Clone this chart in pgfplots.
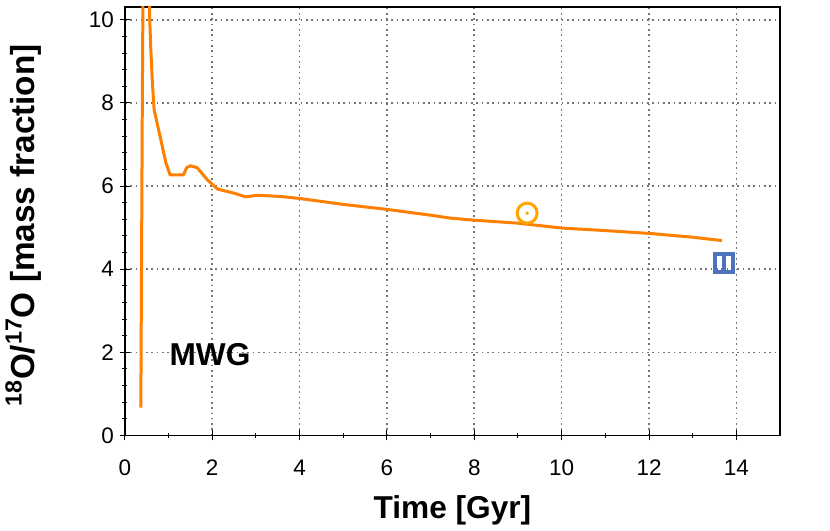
\documentclass[border=0pt]{standalone}
\usepackage{fontspec}
\setmainfont{Liberation Sans}
\usepackage{pgfplots}
\pgfplotsset{compat=1.18}
\definecolor{lineorange}{RGB}{255,128,0}
\definecolor{sunorange}{RGB}{255,165,0}
\definecolor{obsblue}{RGB}{79,114,190}
\begin{document}
\begin{tikzpicture}
\begin{axis}[name=ax, scale only axis, width=393.6pt, height=257.4pt,
  xmin=0, xmax=15, ymin=0, ymax=10.31,
  xtick={0,2,...,14}, ytick={0,2,...,10},
  minor x tick num=1, minor y tick num=4,
  grid=major,
  major grid style={black!55, line width=1pt, dash pattern=on 1pt off 2.2pt},
  tick align=center, xtick pos=bottom, ytick pos=left,
  major tick length=6pt, minor tick length=3pt,
  tick style={black, line width=0.6pt},
  axis line style={black, line width=0.9pt},
  ticklabel style={font=\fontsize{13.5}{16}\selectfont},
  /pgf/number format/assume math mode=true,
  xticklabel style={yshift=-8pt},
  xlabel={Time [Gyr]},
  ylabel={\textsuperscript{18}O/\textsuperscript{17}O [mass fraction]},
  label style={font=\fontsize{19}{22}\selectfont\bfseries},
  xlabel style={at={(axis description cs:0.5,0)}, anchor=center, yshift=-45pt},
  ylabel style={at={(axis description cs:-0.155,0.49)}, anchor=center, font=\fontsize{20}{23}\selectfont\bfseries},
  clip=true,
]
\addplot[lineorange, line width=1.8pt, line join=round] coordinates {
 (0.366,0.67) (0.40,8.0) (0.42,11.5) (0.48,13.0) (0.55,11.2) (0.57,10.0)
 (0.595,9.28) (0.63,8.5) (0.67,7.84) (0.823,7.12) (0.94,6.56) (1.036,6.27)
 (1.34,6.27) (1.42,6.45) (1.51,6.49) (1.66,6.44) (1.89,6.15) (2.12,5.93)
 (2.35,5.87) (2.50,5.83) (2.77,5.74) (3.03,5.78) (3.57,5.75) (4.02,5.70)
 (5.0,5.56) (6.0,5.44) (7.0,5.30) (7.45,5.23) (8.0,5.18) (8.98,5.11)
 (10.01,4.99) (11.0,4.93) (12.03,4.86) (13.0,4.77) (13.67,4.69)
};
\addplot[only marks, mark=o, mark size=6pt, sunorange, mark options={line width=1.8pt}] coordinates {(9.21,5.35)};
\addplot[only marks, mark=*, mark size=0.8pt, sunorange] coordinates {(9.21,5.35)};
\addplot[only marks, mark=square, mark size=5.4pt, obsblue, mark options={line width=2.2pt}] coordinates {(13.71,4.15)};
\addplot[only marks, mark=|, mark size=5.4pt, obsblue, mark options={line width=2.2pt}] coordinates {(13.71,4.15)};
\node[font=\fontsize{19}{22}\selectfont\bfseries] at (axis cs:1.95,1.95) {MWG};
\end{axis}
\pgfresetboundingbox
\path[use as bounding box] ([shift={(-75pt,-57pt)}]ax.south west) rectangle ([shift={(30pt,4.2pt)}]ax.north east);
\end{tikzpicture}
\end{document}
